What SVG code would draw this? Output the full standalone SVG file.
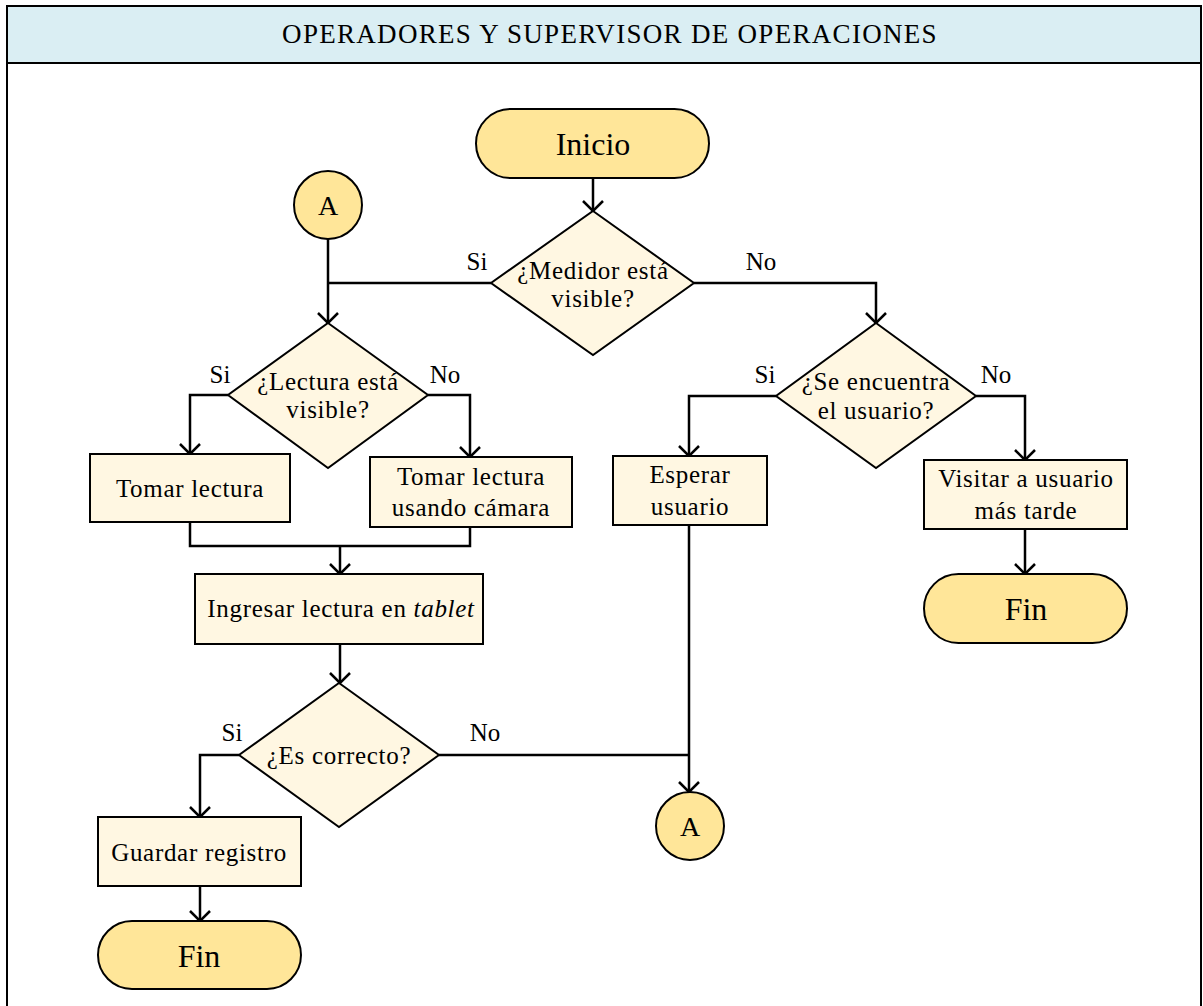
<svg xmlns="http://www.w3.org/2000/svg" width="1203" height="1006" viewBox="0 0 1203 1006" font-family="'Liberation Serif', 'DejaVu Serif', serif">
  <style>
    .frame { fill: #fff; stroke: #000; stroke-width: 2; }
    .header { fill: #DAEEF3; stroke: #000; stroke-width: 2; }
    .term { fill: #FFE699; stroke: #000; stroke-width: 2; }
    .proc { fill: #FFF7E2; stroke: #000; stroke-width: 2; }
    .dec { fill: #FFF7E2; stroke: #000; stroke-width: 2; }
    .wire { fill: none; stroke: #000; stroke-width: 2.5; }
    text { font-family: 'Liberation Serif', 'DejaVu Serif', serif; fill: #000; text-anchor: middle; }
    .title { font-size: 27px; letter-spacing: 1.3px; }
    .big { font-size: 32px; }
    .lbl { font-size: 25px; letter-spacing: 0.7px; }
    .conn { font-size: 28px; }
    .edge { font-size: 25px; }
  </style>
  <defs>
    <marker id="arrow" viewBox="0 0 12 22" refX="11" refY="11" markerWidth="12" markerHeight="22" markerUnits="userSpaceOnUse" orient="auto">
      <path d="M1,1 L11,11 L1,21" fill="none" stroke="#000" stroke-width="2.5"/>
    </marker>
  </defs>

  <!-- swimlane frame and header -->
  <rect class="frame" x="7" y="6" width="1194" height="1010"/>
  <rect class="header" x="7" y="6" width="1194" height="57"/>
  <text class="title" x="610" y="43">OPERADORES Y SUPERVISOR DE OPERACIONES</text>

  <!-- connectors -->
  <g id="connectors">
    <path class="wire" d="M593,178 V211" marker-end="url(#arrow)"/>
    <path class="wire" d="M491,283 H328"/>
    <path class="wire" d="M328,239 V323" marker-end="url(#arrow)"/>
    <path class="wire" d="M694,283 H876 V323" marker-end="url(#arrow)"/>
    <path class="wire" d="M228,395 H190 V454" marker-end="url(#arrow)"/>
    <path class="wire" d="M428,395 H470 V457" marker-end="url(#arrow)"/>
    <path class="wire" d="M190,522 V546 H470 V527"/>
    <path class="wire" d="M340,546 V574" marker-end="url(#arrow)"/>
    <path class="wire" d="M340,644 V683" marker-end="url(#arrow)"/>
    <path class="wire" d="M239,755 H200 V817" marker-end="url(#arrow)"/>
    <path class="wire" d="M200,886 V921" marker-end="url(#arrow)"/>
    <path class="wire" d="M439,755 H689"/>
    <path class="wire" d="M689,525 V792" marker-end="url(#arrow)"/>
    <path class="wire" d="M776,396 H689 V456" marker-end="url(#arrow)"/>
    <path class="wire" d="M976,396 H1025 V460" marker-end="url(#arrow)"/>
    <path class="wire" d="M1025,529 V574" marker-end="url(#arrow)"/>
  </g>

  <!-- branch labels -->
  <g id="edge-labels">
    <text class="edge" x="477" y="270">Si</text>
    <text class="edge" x="761" y="270">No</text>
    <text class="edge" x="220" y="383">Si</text>
    <text class="edge" x="445" y="383">No</text>
    <text class="edge" x="765" y="383">Si</text>
    <text class="edge" x="996" y="383">No</text>
    <text class="edge" x="232" y="741">Si</text>
    <text class="edge" x="485" y="741">No</text>
  </g>

  <g id="inicio">
    <rect class="term" x="476" y="109" width="233" height="69" rx="34.5"/>
    <text class="big" x="593" y="155">Inicio</text>
  </g>

  <g id="conector-a-entrada">
    <circle class="term" cx="328" cy="205" r="34"/>
    <text class="conn" x="328" y="215">A</text>
  </g>

  <g id="medidor-visible">
    <polygon class="dec" points="593,211 694,283 593,355 491,283"/>
    <text class="lbl" x="593" y="279">¿Medidor está</text>
    <text class="lbl" x="593" y="307">visible?</text>
  </g>

  <g id="lectura-visible">
    <polygon class="dec" points="328,323 428,395 328,468 228,395"/>
    <text class="lbl" x="328" y="390">¿Lectura está</text>
    <text class="lbl" x="328" y="418">visible?</text>
  </g>

  <g id="se-encuentra-usuario">
    <polygon class="dec" points="876,323 976,396 876,468 776,396"/>
    <text class="lbl" x="876" y="390">¿Se encuentra</text>
    <text class="lbl" x="876" y="419">el usuario?</text>
  </g>

  <g id="tomar-lectura">
    <rect class="proc" x="90" y="454" width="200" height="68"/>
    <text class="lbl" x="190" y="497">Tomar lectura</text>
  </g>

  <g id="tomar-lectura-camara">
    <rect class="proc" x="370" y="457" width="202" height="70"/>
    <text class="lbl" x="471" y="485">Tomar lectura</text>
    <text class="lbl" x="471" y="516">usando cámara</text>
  </g>

  <g id="esperar-usuario">
    <rect class="proc" x="613" y="456" width="154" height="69"/>
    <text class="lbl" x="690" y="483">Esperar</text>
    <text class="lbl" x="690" y="515">usuario</text>
  </g>

  <g id="visitar-usuario">
    <rect class="proc" x="924" y="460" width="203" height="69"/>
    <text class="lbl" x="1026" y="487">Visitar a usuario</text>
    <text class="lbl" x="1026" y="519">más tarde</text>
  </g>

  <g id="fin-derecha">
    <rect class="term" x="924" y="574" width="203" height="69" rx="34.5"/>
    <text class="big" x="1026" y="620">Fin</text>
  </g>

  <g id="ingresar-lectura">
    <rect class="proc" x="195" y="574" width="288" height="70"/>
    <text class="lbl" x="341" y="617">Ingresar lectura en <tspan font-style="italic">tablet</tspan></text>
  </g>

  <g id="es-correcto">
    <polygon class="dec" points="339,683 439,755 339,827 239,755"/>
    <text class="lbl" x="339" y="764">¿Es correcto?</text>
  </g>

  <g id="guardar-registro">
    <rect class="proc" x="98" y="817" width="203" height="69"/>
    <text class="lbl" x="199" y="861">Guardar registro</text>
  </g>

  <g id="fin-izquierda">
    <rect class="term" x="98" y="921" width="203" height="68" rx="34"/>
    <text class="big" x="199" y="967">Fin</text>
  </g>

  <g id="conector-a-salida">
    <circle class="term" cx="690" cy="826" r="34"/>
    <text class="conn" x="690" y="836">A</text>
  </g>
</svg>
